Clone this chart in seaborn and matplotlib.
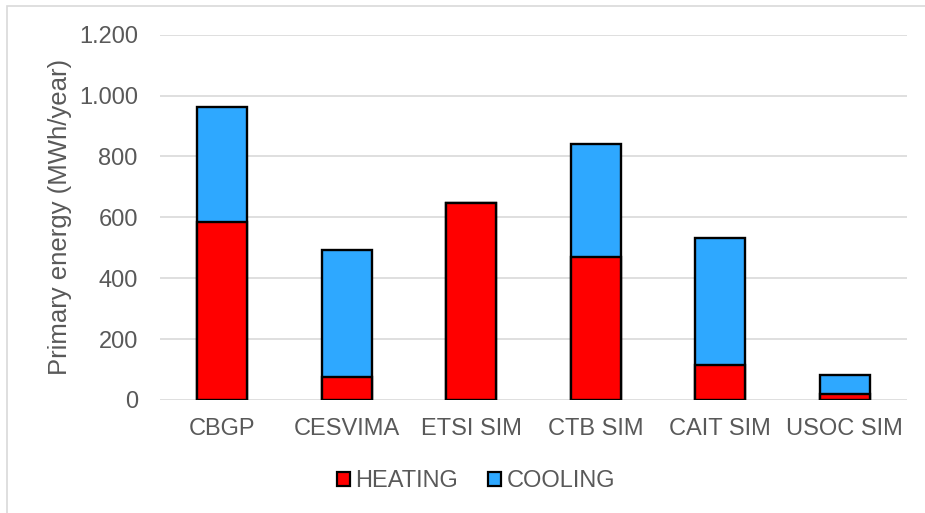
import matplotlib
matplotlib.use("Agg")
import matplotlib.pyplot as plt
from matplotlib.ticker import FuncFormatter
from matplotlib.patches import Rectangle, Patch
import seaborn as sns
import pandas as pd

categories = ["CBGP", "CESVIMA", "ETSI SIM", "CTB SIM", "CAIT SIM", "USOC SIM"]
heating = [584, 75, 647, 471, 115, 19]
cooling = [380, 417, 0, 371, 417, 63]
series_names = ["HEATING", "COOLING"]
series_colors = ["#ff0000", "#2ea8ff"]
yticks = [0, 200, 400, 600, 800, 1000, 1200]

total = [h + c for h, c in zip(heating, cooling)]
df = pd.DataFrame({"category": categories, "heating": heating, "total": total})

sns.set_theme(style="white")
plt.rcParams["font.family"] = ["Liberation Sans", "DejaVu Sans"]

W, H = 925, 513
fig = plt.figure(figsize=(W / 100, H / 100), dpi=100)
ax = fig.add_axes([160 / W, 1 - 400 / H, (907 - 160) / W, (400 - 34.7) / H])

txt = "#595959"
grid = "#d9d9d9"
fs = 17

sns.barplot(data=df, x="category", y="total", color=series_colors[1], saturation=1,
            width=0.4, edgecolor="black", linewidth=1.7, ax=ax, zorder=3)
sns.barplot(data=df, x="category", y="heating", color=series_colors[0], saturation=1,
            width=0.4, edgecolor="black", linewidth=1.7, ax=ax, zorder=4)

ax.set_ylim(0, 1200)
ax.set_xlim(-0.5, len(categories) - 0.5)
ax.set_yticks(yticks)
ax.yaxis.set_major_formatter(FuncFormatter(lambda v, p: f"{int(v):,}".replace(",", ".")))
ax.grid(axis="y", color=grid, linewidth=1.2, zorder=0)
ax.set_axisbelow(True)
for s in ax.spines.values():
    s.set_visible(False)
ax.tick_params(axis="both", length=0, labelsize=fs, labelcolor=txt)
ax.tick_params(axis="y", pad=16)
ax.tick_params(axis="x", pad=13)
ax.set_xlabel("")
ax.set_ylabel("Primary energy (MWh/year)", fontsize=18.5, color=txt, labelpad=5)

handles = [Patch(facecolor=c, edgecolor="black", linewidth=1.6) for c in series_colors]
fig.legend(handles, series_names, loc="center", bbox_to_anchor=(476 / W, 1 - 481 / H),
           ncol=2, frameon=False, fontsize=fs, labelcolor=txt,
           handlelength=0.55, handleheight=0.55, handletextpad=0.25, columnspacing=1.25)

fig.patches.append(Rectangle((7 / W, -0.1), 1.2, 1 - 6 / H + 0.1, transform=fig.transFigure,
                             fill=False, edgecolor="#d9d9d9", linewidth=1.2, zorder=-1))

fig.savefig("out.png", dpi=100)
